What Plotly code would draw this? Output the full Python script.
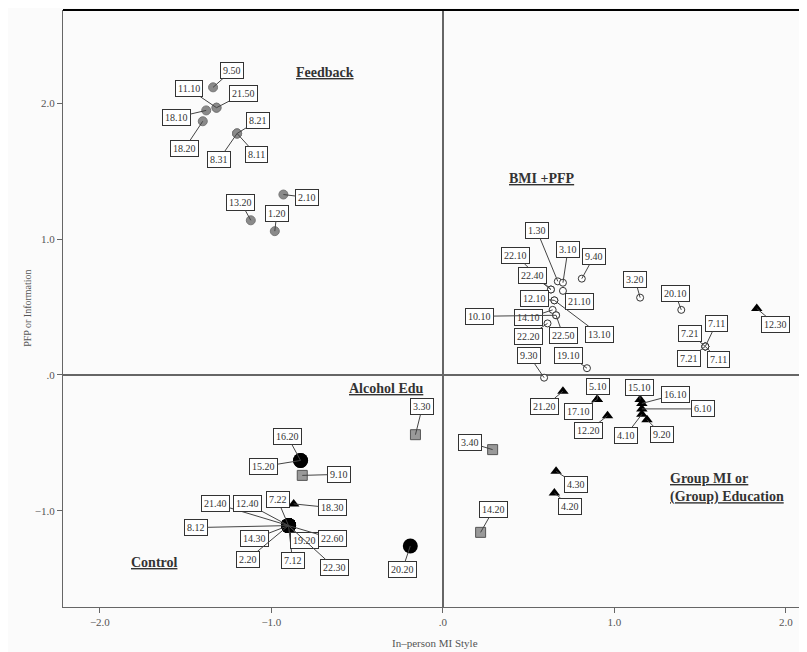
import plotly.graph_objects as go

# ---------------- data ----------------
feedback_labels = ["9.50", "11.10", "21.50", "18.10", "18.20", "8.21", "8.31", "8.11", "2.10", "13.20", "1.20"]
feedback_x = [-1.34, -1.32, -1.32, -1.38, -1.40, -1.20, -1.20, -1.20, -0.93, -1.12, -0.98]
feedback_y = [2.12, 1.97, 1.97, 1.95, 1.87, 1.78, 1.78, 1.78, 1.33, 1.14, 1.06]

bmi_labels = ["1.30", "3.10", "9.40", "22.10", "22.40", "21.10", "12.10", "13.10", "14.10", "10.10",
              "22.50", "22.20", "9.30", "19.10", "3.20", "20.10", "7.11", "7.21", "7.21", "7.11"]
bmi_x = [0.67, 0.70, 0.81, 0.63, 0.63, 0.70, 0.65, 0.65, 0.64, 0.66,
         0.66, 0.61, 0.59, 0.84, 1.15, 1.39, 1.53, 1.53, 1.53, 1.53]
bmi_y = [0.69, 0.68, 0.71, 0.63, 0.63, 0.62, 0.55, 0.55, 0.48, 0.44,
         0.44, 0.38, -0.02, 0.05, 0.57, 0.48, 0.21, 0.21, 0.21, 0.21]

group_labels = ["12.30", "21.20", "5.10", "17.10", "12.20", "15.10", "16.10", "6.10", "4.10", "9.20", "4.30", "4.20", "18.30"]
group_x = [1.83, 0.70, 0.90, 0.90, 0.96, 1.15, 1.16, 1.16, 1.16, 1.19, 0.66, 0.65, -0.87]
group_y = [0.49, -0.12, -0.18, -0.18, -0.30, -0.18, -0.21, -0.25, -0.29, -0.33, -0.71, -0.87, -0.95]

edu_labels = ["3.30", "3.40", "14.20", "9.10"]
edu_x = [-0.16, 0.29, 0.22, -0.82]
edu_y = [-0.44, -0.55, -1.16, -0.74]

control_labels = ["20.20", "16.20", "15.20", "21.40", "12.40", "7.22", "8.12", "14.30", "2.20", "7.12", "19.20", "22.60", "22.30"]
control_x = [-0.19, -0.83, -0.83, -0.90, -0.90, -0.90, -0.90, -0.90, -0.90, -0.90, -0.90, -0.90, -0.90]
control_y = [-1.26, -0.63, -0.63, -1.11, -1.11, -1.11, -1.11, -1.11, -1.11, -1.11, -1.11, -1.11, -1.11]

x_tickvals = [-2, -1, 0, 1, 2]
x_ticktext = ["\u22122.0", "\u22121.0", ".0", "1.0", "2.0"]
y_tickvals = [-1, 0, 1, 2]
y_ticktext = ["\u22121.0", ".0", "1.0", "2.0"]

# ---------------- label offsets (pixels, layout only) ----------------
feedback_off = [(19, -17), (-28, -19), (27, -14), (-30, 7), (-18, 27), (21, -13), (-18, 26), (19, 21), (24, 3), (-10, -18), (2, -18)]
bmi_off = [(-21, -51), (5, -33), (12, -22), (-35, -34), (-18, -14), (17, 11), (-20, -2), (45, 34), (-24, 8), (-77, 1),
           (7, 20), (-19, 13), (-15, -22), (-18, -13), (-5, -18), (-6, -16), (11, -23), (-15, -13), (-16, 12), (13, 13)]
group_off = [(19, 16), (-18, 15), (1, -13), (-19, 12), (-19, 15), (-1, -12), (34, -9), (61, 0), (-16, 21), (15, 15), (20, 13), (16, 13), (39, 4)]
edu_off = [(7, -28), (-23, -7), (13, -23), (37, -1)]
control_off = [(-8, 24), (-13, -24), (-37, 6), (-73, -22), (-41, -22), (-11, -26), (-93, 2), (-34, 13), (-41, 34), (4, 35), (16, 15), (44, 13), (46, 42)]

SERIF = "Liberation Serif, Times New Roman, serif"

fig = go.Figure()

fig.add_trace(go.Scatter(x=feedback_x, y=feedback_y, mode="markers", name="Feedback",
                         marker=dict(symbol="circle", size=9, color="#8a8a8a", line=dict(color="#777", width=1))))
fig.add_trace(go.Scatter(x=bmi_x, y=bmi_y, mode="markers", name="BMI +PFP",
                         marker=dict(symbol="circle", size=7, color="white", line=dict(color="#333", width=1))))
fig.add_trace(go.Scatter(x=group_x, y=group_y, mode="markers", name="Group MI",
                         marker=dict(symbol="triangle-up", size=10, color="black")))
fig.add_trace(go.Scatter(x=edu_x, y=edu_y, mode="markers", name="Alcohol Edu",
                         marker=dict(symbol="square", size=10, color="#999", line=dict(color="#555", width=1))))
fig.add_trace(go.Scatter(x=control_x, y=control_y, mode="markers", name="Control",
                         marker=dict(symbol="circle", size=15, color="black")))

annotations = []
for labels, xs, ys, offs in [(feedback_labels, feedback_x, feedback_y, feedback_off),
                             (bmi_labels, bmi_x, bmi_y, bmi_off),
                             (group_labels, group_x, group_y, group_off),
                             (edu_labels, edu_x, edu_y, edu_off),
                             (control_labels, control_x, control_y, control_off)]:
    for lab, xv, yv, (ax, ay) in zip(labels, xs, ys, offs):
        annotations.append(dict(x=xv, y=yv, xref="x", yref="y", text=lab, showarrow=True,
                                ax=ax, ay=ay, arrowhead=0, arrowwidth=1, arrowcolor="#444",
                                standoff=0, startstandoff=0,
                                font=dict(family=SERIF, size=10, color="#333"),
                                bgcolor="white", bordercolor="#333", borderwidth=1, borderpad=2))

group_titles = [("<b><u>Feedback</u></b>", -0.69, 2.23, "center"),
                ("<b><u>BMI +PFP</u></b>", 0.58, 1.45, "center"),
                ("<b><u>Alcohol Edu</u></b>", -0.33, -0.10, "center"),
                ("<b><u>Group MI or</u></b><br><b><u>(Group) Education</u></b>", 1.31, -0.83, "left"),
                ("<b><u>Control</u></b>", -1.68, -1.385, "center")]
for txt, xv, yv, al in group_titles:
    annotations.append(dict(x=xv, y=yv, xref="x", yref="y", text=txt, showarrow=False,
                            xanchor=al if al == "left" else "center", align=al,
                            font=dict(family=SERIF, size=14, color="#333")))

annotations.append(dict(x=0.5, y=-0.06, xref="paper", yref="paper", text="In\u2013person MI Style",
                        showarrow=False, yanchor="middle", font=dict(family=SERIF, size=11, color="#555")))
annotations.append(dict(x=-0.058, y=0.5, xref="paper", yref="paper", text="PFP or Information",
                        showarrow=False, textangle=-90, font=dict(family=SERIF, size=10, color="#555")))

fig.update_layout(
    width=799, height=644,
    margin=dict(l=55, r=0, t=2, b=45),
    paper_bgcolor="#fbfbfb", plot_bgcolor="#fbfbfb",
    showlegend=False,
    annotations=annotations,
    shapes=[dict(type="line", xref="paper", yref="paper", x0=0, x1=1, y0=1, y1=1, line=dict(color="black", width=2))],
    xaxis=dict(range=[-2.215, 2.123], tickvals=x_tickvals, ticktext=x_ticktext, showgrid=False,
               zeroline=True, zerolinecolor="#666", zerolinewidth=1.5,
               showline=True, linecolor="#666", linewidth=1, ticks="outside", ticklen=5, tickcolor="#666",
               tickfont=dict(family=SERIF, size=11, color="#555")),
    yaxis=dict(range=[-1.71, 2.69], tickvals=y_tickvals, ticktext=y_ticktext, showgrid=False,
               zeroline=True, zerolinecolor="#666", zerolinewidth=1.5,
               showline=True, linecolor="#666", linewidth=1, ticks="outside", ticklen=5, tickcolor="#666",
               tickfont=dict(family=SERIF, size=11, color="#555")),
)

fig.write_html("out.html")
